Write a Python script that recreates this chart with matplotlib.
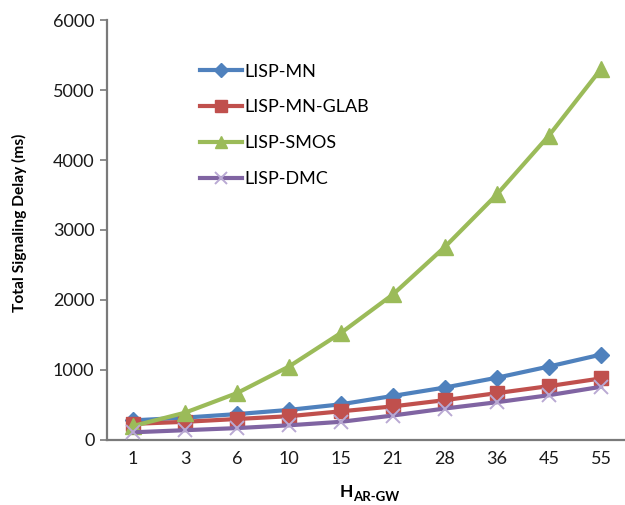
import matplotlib
matplotlib.use("Agg")
import matplotlib.pyplot as plt
import numpy as np

categories = ["1", "3", "6", "10", "15", "21", "28", "36", "45", "55"]
lisp_mn = [280, 320, 370, 430, 510, 630, 750, 890, 1050, 1220]
lisp_mn_glab = [230, 260, 300, 340, 410, 480, 570, 670, 770, 880]
lisp_smos = [200, 390, 670, 1050, 1530, 2080, 2760, 3510, 4350, 5300]
lisp_dmc = [110, 140, 170, 210, 260, 350, 450, 540, 640, 760]

plt.rcParams["font.family"] = ["Lato", "DejaVu Sans"]

fig = plt.figure(figsize=(6.25, 5.05), dpi=100)
ax = fig.add_axes([107 / 625, 1 - 440 / 505, 520 / 625, 420 / 505])

x = np.arange(len(categories))
lw = 3.0
ax.plot(x, lisp_mn, color="#4F81BD", lw=lw, marker="D", ms=8.5,
        mfc="#4F81BD", mec="#4F81BD", label="LISP-MN", zorder=3)
ax.plot(x, lisp_mn_glab, color="#C0504D", lw=lw, marker="s", ms=10,
        mfc="#C0504D", mec="#C0504D", label="LISP-MN-GLAB", zorder=4)
ax.plot(x, lisp_smos, color="#9BBB59", lw=lw, marker="^", ms=11,
        mfc="#9BBB59", mec="#9BBB59", label="LISP-SMOS", zorder=5)
ax.plot(x, lisp_dmc, color="#8064A2", lw=lw, marker="x", ms=10, mew=1.4,
        mec="#B9A9D3", label="LISP-DMC", zorder=6)

ax.set_xlim(-0.5, len(categories) - 0.5)
ax.set_ylim(0, 6000)
ax.set_yticks(range(0, 6001, 1000))
ax.set_xticks(x)
ax.set_xticklabels(categories)

for s in ("top", "right"):
    ax.spines[s].set_visible(False)
for s in ("left", "bottom"):
    ax.spines[s].set_color("#7a7a7a")
    ax.spines[s].set_linewidth(1.6)
ax.tick_params(axis="y", length=5, width=1.2, color="#7a7a7a",
               labelsize=13, pad=4, labelcolor="#1a1a1a")
ax.tick_params(axis="x", length=0, labelsize=13, pad=8, labelcolor="#1a1a1a")

ax.set_ylabel("Total Signaling Delay (ms)", fontsize=11.2, fontweight="bold")
ax.yaxis.set_label_coords(-80 / 520, 0.517)

# x-axis title with subscript
fig.text(353 / 625, 1 - 497 / 505, "H", fontsize=12.5, fontweight="bold",
         ha="right", va="baseline")
fig.text(353 / 625, 1 - 501 / 505, "AR-GW", fontsize=9.5, fontweight="bold",
         ha="left", va="baseline")

ax.legend(loc="upper left", bbox_to_anchor=(0.148, 0.935), frameon=False,
          fontsize=13, labelspacing=1.1, handlelength=2.3, handletextpad=0.15,
          markerscale=0.8)

fig.savefig("out.png", dpi=100)
